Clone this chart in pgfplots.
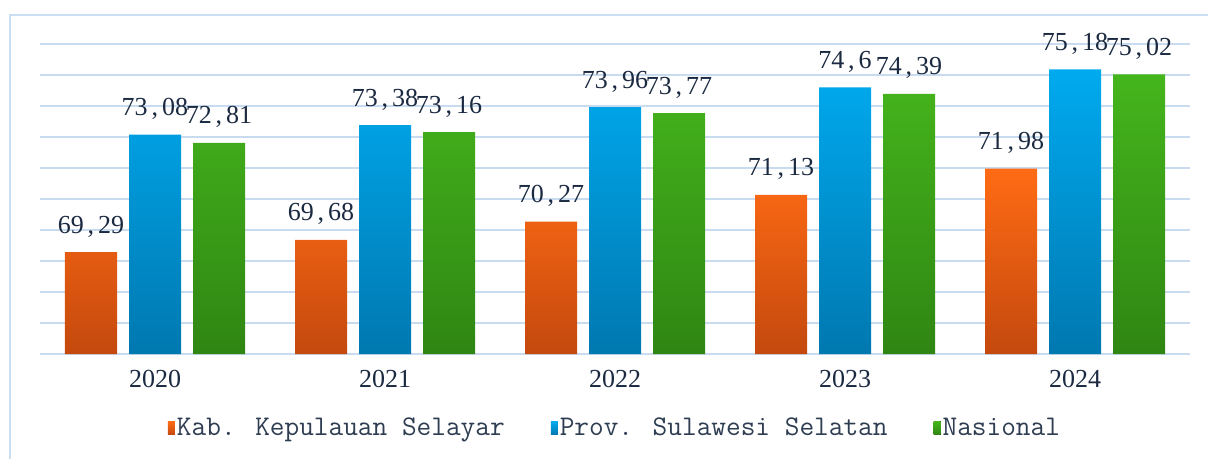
\documentclass[border=0pt]{standalone}
\usepackage{fontspec}
\setmainfont{Liberation Serif}
\usepackage{pgfplots}
\pgfplotsset{compat=1.18}

\definecolor{otop}{HTML}{FF6B14}
\definecolor{obot}{HTML}{C4490E}
\definecolor{btop}{HTML}{00AAEF}
\definecolor{bbot}{HTML}{0078B0}
\definecolor{gtop}{HTML}{45B51C}
\definecolor{gbot}{HTML}{2F8613}
\definecolor{gridc}{HTML}{C8DBEF}
\definecolor{framec}{HTML}{CCDFF2}
\definecolor{labc}{HTML}{1B2A41}
\definecolor{legc}{HTML}{2E3D52}

\begin{document}
\begin{tikzpicture}
\path[use as bounding box] (0,0) rectangle (604pt,-229.5pt);
\draw[framec, line width=1pt] (5pt,-229.5pt) -- (5pt,-7.5pt) -- (604pt,-7.5pt);
\begin{axis}[
    at={(20pt,-177pt)}, anchor=south west,
    scale only axis, width=575pt, height=155pt,
    ybar=6pt, bar width=26pt,
    xmin=-0.5, xmax=4.5,
    ymin=66, ymax=76,
    xtick=data,
    xticklabels={2020,2021,2022,2023,2024},
    ytick={66,67,...,76},
    yticklabels={},
    ymajorgrids,
    grid style={draw=gridc, line width=0.8pt},
    axis line style={draw=none},
    major tick length=0pt,
    xticklabel style={font=\fontsize{13}{15}\selectfont, text=labc, anchor=base, yshift=-16.5pt},
    nodes near coords={\pgfmathprintnumber[use comma, precision=2, assume math mode=true, dec sep={\kern2pt,\kern2pt}]{\pgfplotspointmeta}},
    every node near coord/.append style={font=\fontsize{13}{15}\selectfont, text=labc, anchor=base, yshift=9.5pt},
    legend columns=-1,
    legend style={at={(0.5,-0.239)}, anchor=center, draw=none, fill=none,
        font=\ttfamily\fontsize{14.25}{16}\selectfont, text=legc,
        nodes={inner sep=1pt},
        /tikz/every even column/.append style={column sep=22pt}},
    legend image code/.code={\fill[#1] (0pt,-3.3pt) rectangle (3.5pt,3.3pt);},
]
\addplot[draw=none, top color=otop, bottom color=obot] coordinates {(0,69.29) (1,69.68) (2,70.27) (3,71.13) (4,71.98)};
\addplot[draw=none, top color=btop, bottom color=bbot] coordinates {(0,73.08) (1,73.38) (2,73.96) (3,74.6) (4,75.18)};
\addplot[draw=none, top color=gtop, bottom color=gbot] coordinates {(0,72.81) (1,73.16) (2,73.77) (3,74.39) (4,75.02)};
\legend{Kab. Kepulauan Selayar, Prov. Sulawesi Selatan, Nasional}
\end{axis}
\end{tikzpicture}
\end{document}
